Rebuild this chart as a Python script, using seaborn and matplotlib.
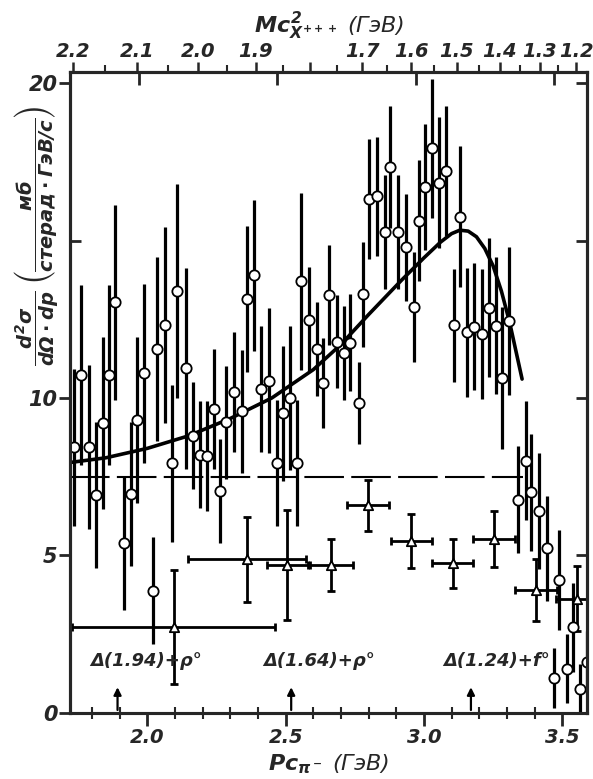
import numpy as np
import pandas as pd
import matplotlib.pyplot as plt
import seaborn as sns

# open circles: momentum of pi- (GeV/c), cross section, error
p_pi = [1.733, 1.759, 1.787, 1.814, 1.838, 1.861, 1.884, 1.917, 1.940, 1.964,
        1.987, 2.021, 2.035, 2.062, 2.089, 2.108, 2.140, 2.166, 2.190, 2.216,
        2.240, 2.264, 2.286, 2.312, 2.341, 2.359, 2.385, 2.412, 2.439, 2.467,
        2.489, 2.516, 2.540, 2.557, 2.584, 2.612, 2.636, 2.658, 2.685, 2.711,
        2.733, 2.766, 2.781, 2.803, 2.830, 2.860, 2.878, 2.908, 2.934, 2.965,
        2.984, 3.005, 3.031, 3.055, 3.080, 3.108, 3.132, 3.156, 3.182, 3.209,
        3.234, 3.260, 3.284, 3.309, 3.339, 3.370, 3.388, 3.416, 3.446, 3.471,
        3.490, 3.518, 3.540, 3.566, 3.588]
sigma = [8.43, 10.73, 8.45, 6.92, 9.20, 10.73, 13.04, 5.38, 6.95, 9.30,
         10.78, 3.88, 11.56, 12.32, 7.92, 13.40, 10.94, 8.80, 8.19, 8.16,
         9.65, 7.05, 9.23, 10.19, 9.58, 13.14, 13.90, 10.29, 10.55, 7.92,
         9.51, 10.00, 7.92, 13.70, 12.48, 11.55, 10.47, 13.27, 11.79, 11.42,
         11.76, 9.83, 13.29, 16.32, 16.40, 15.27, 17.33, 15.27, 14.78, 12.90,
         15.63, 16.70, 17.93, 16.84, 17.21, 12.31, 15.76, 12.08, 12.27, 12.03,
         12.87, 12.30, 10.63, 12.45, 6.76, 8.01, 7.00, 6.41, 5.22, 1.10,
         4.22, 1.40, 2.71, 0.75, 1.60]
sigma_err = [2.5, 2.85, 2.6, 2.33, 2.73, 2.85, 3.1, 2.1, 2.3, 2.65,
             2.85, 1.7, 2.93, 3.1, 2.5, 3.4, 3.2, 1.7, 1.7, 1.75,
             1.9, 1.65, 1.8, 1.9, 1.95, 2.33, 2.4, 2.0, 2.3, 2.0,
             2.15, 2.3, 2.0, 2.8, 1.67, 1.5, 1.43, 1.6, 1.48, 1.5,
             1.54, 1.3, 1.68, 1.9, 1.9, 1.8, 1.93, 1.8, 1.7, 1.75,
             1.93, 2.0, 2.2, 2.08, 2.07, 1.8, 2.24, 2.04, 2.03, 2.06,
             2.2, 2.17, 2.25, 2.36, 1.7, 1.9, 1.87, 1.83, 1.67, 0.95,
             1.6, 1.1, 1.4, 0.8, 1.0]

# open triangles
tri_p = [2.095, 2.361, 2.506, 2.665, 2.798, 2.955, 3.104, 3.252, 3.406, 3.554]
tri_sigma = [2.73, 4.87, 4.69, 4.69, 6.60, 5.47, 4.75, 5.52, 3.90, 3.63]
tri_p_err = [0.368, 0.213, 0.075, 0.078, 0.075, 0.075, 0.074, 0.076, 0.075, 0.075]
tri_sigma_err = [1.8, 1.34, 1.74, 0.82, 0.81, 0.86, 0.78, 0.9, 0.97, 1.03]

# fitted curve
curve_p = [1.72, 1.85, 2.00, 2.15, 2.30, 2.45, 2.60, 2.70, 2.80, 2.92,
           3.00, 3.06, 3.10, 3.13, 3.16, 3.19, 3.22, 3.25, 3.28, 3.31,
           3.335, 3.355]
curve_sigma = [7.95, 8.10, 8.40, 8.80, 9.35, 10.0, 10.9, 11.7, 12.65, 13.75,
               14.45, 14.95, 15.22, 15.33, 15.30, 15.12, 14.75, 14.2, 13.4, 12.4,
               11.4, 10.6]

background = 7.5
background_end = 3.36

# upper scale: missing mass of X+++
mass_ticks = [2.2, 2.1, 2.0, 1.9, 1.8, 1.7, 1.6, 1.5, 1.4, 1.3, 1.2]
mass_labels = ['2.2', '2.1', '2.0', '1.9', '', '1.7', '1.6', '1.5', '1.4', '1.3', '1.2']
mass_minor = [2.15, 2.05, 1.95, 1.85, 1.75, 1.65, 1.55, 1.45, 1.35, 1.25]
p_beam = 3.85

threshold_labels = ['Δ(1.94)+ρ°', 'Δ(1.64)+ρ°', 'Δ(1.24)+f°']
threshold_p = [1.892, 2.52, 3.17]

sns.set_style('ticks')
plt.rcParams['font.family'] = ['DejaVu Sans']
plt.rcParams['font.weight'] = 'bold'
plt.rcParams['font.style'] = 'italic'
plt.rcParams['mathtext.fontset'] = 'dejavusans'
plt.rcParams['axes.linewidth'] = 2.2

fig = plt.figure(figsize=(5.93, 7.79), dpi=100)
ax = fig.add_axes([0.118, 0.085, 0.872, 0.822])

df = pd.DataFrame({'p': p_pi, 's': sigma, 'e': sigma_err})
tri = pd.DataFrame({'p': tri_p, 's': tri_sigma})

ax.errorbar(df['p'], df['s'], yerr=df['e'], fmt='none', ecolor='black', elinewidth=2.3, zorder=2)
ax.errorbar(tri_p, tri_sigma, xerr=tri_p_err, yerr=tri_sigma_err, fmt='none', ecolor='black',
            elinewidth=2.0, capsize=3, capthick=2.0, zorder=2)
sns.lineplot(x=curve_p, y=curve_sigma, sort=False, estimator=None, color='black', lw=2.6, ax=ax, zorder=4)
ax.plot([1.72, background_end], [background, background], color='black', lw=1.5,
        ls=(0, (19, 3.5)), zorder=1)
sns.scatterplot(data=df, x='p', y='s', marker='o', s=55, facecolor='white', edgecolor='black',
                linewidth=1.3, ax=ax, zorder=5)
sns.scatterplot(data=tri, x='p', y='s', marker='^', s=45, facecolor='white', edgecolor='black',
                linewidth=1.3, ax=ax, zorder=5)

for lab, p in zip(threshold_labels, threshold_p):
    ax.annotate('', xy=(p, 0.9), xytext=(p, 0.0),
                arrowprops=dict(arrowstyle='-|>', lw=1.6, color='black', mutation_scale=11))
    ax.text(p - 0.1, 1.65, lab, fontsize=13, ha='left', va='center')

ax.set_xlim(1.72, 3.59)
ax.set_ylim(0, 20.34)
ax.set_xticks([2.0, 2.5, 3.0, 3.5])
ax.set_xticklabels(['2.0', '2.5', '3.0', '3.5'])
ax.set_xticks(np.arange(1.8, 3.6, 0.1), minor=True)
ax.set_yticks([0, 5, 10, 20])
ax.set_yticklabels(['0', '5', '10', '20'])
ax.tick_params(axis='x', which='major', direction='out', length=9, width=2, labelsize=14, pad=2)
ax.tick_params(axis='x', which='minor', direction='inout', length=8, width=1.5)
ax.tick_params(axis='y', which='major', direction='out', length=8, width=2, labelsize=15, pad=1)
ax.set_xlabel(r'$Pc_{\pi^-}$ (ГэВ)', fontsize=16, labelpad=4)
ax.set_ylabel(r'$\dfrac{d^2\sigma}{d\Omega\cdot dp}\;\left(\dfrac{\mathrm{мб}}{\mathrm{стерад}\cdot\mathrm{ГэВ/с}}\right)$',
              fontsize=14)
ax.yaxis.set_label_coords(-0.02, 0.745)

# inward ticks on the other spines
sec_top = ax.secondary_xaxis('top')
sec_top.set_xticks([1.97, 2.47, 2.97, 3.47])
sec_top.tick_params(direction='in', length=9, width=2, labeltop=False)
sec_right = ax.secondary_yaxis('right')
sec_right.set_yticks([5, 10, 15, 20])
sec_right.tick_params(direction='in', length=8, width=2, labelright=False)
sec_left = ax.secondary_yaxis('left')
sec_left.set_yticks([15])
sec_left.tick_params(direction='in', length=8, width=2, labelleft=False)


def missing_mass(p):
    m_pi, m_p = 0.1396, 0.9383
    e = np.sqrt(p ** 2 + m_pi ** 2)
    e0 = np.sqrt(p_beam ** 2 + m_pi ** 2)
    return np.sqrt((e0 + m_p - e) ** 2 - (p_beam - p) ** 2)


grid = np.linspace(1.5, 3.75, 3000)
mm = missing_mass(grid)
top = ax.twiny()
top.set_xlim(ax.get_xlim())
top.set_xticks(np.interp(mass_ticks, mm[::-1], grid[::-1]))
top.set_xticklabels(mass_labels)
top.set_xticks(np.interp(mass_minor, mm[::-1], grid[::-1]), minor=True)
top.tick_params(axis='x', which='major', direction='out', length=7, width=1.8, labelsize=14, pad=1)
top.tick_params(axis='x', which='minor', direction='out', length=5, width=1.5)
top.set_xlabel(r'$Mc^2_{X^{+++}}$ (ГэВ)', fontsize=16, labelpad=7)

fig.savefig('out.png', dpi=100)
